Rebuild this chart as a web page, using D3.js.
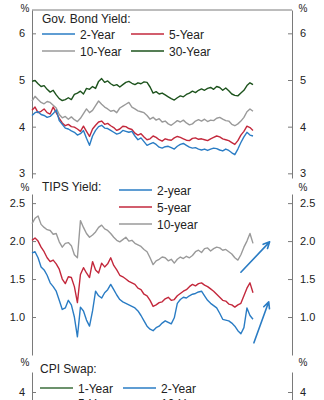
<!DOCTYPE html>
<html>
<head>
<meta charset="utf-8">
<script src="https://cdn.jsdelivr.net/npm/d3@7"></script>
<style>
  html, body { margin: 0; padding: 0; background: #fff; }
  svg { display: block; font-family: "Liberation Sans", Arial, sans-serif; }
</style>
</head>
<body>
<svg id="chart" width="324" height="400"></svg>
<script>
// Government bond yields (%), daily sampled
const bond2y = [4.24,4.30,4.32,4.26,4.24,4.20,4.22,4.28,4.36,4.13,4.05,3.97,3.95,3.91,3.88,3.82,3.85,3.92,3.75,3.60,
  3.80,3.92,4.00,4.03,3.97,3.96,3.92,3.88,3.84,3.86,3.92,3.90,3.88,3.90,3.80,3.72,3.76,3.68,3.60,3.63,
  3.66,3.62,3.56,3.54,3.57,3.58,3.55,3.52,3.58,3.62,3.64,3.60,3.56,3.54,3.55,3.52,3.50,3.52,3.49,3.52,
  3.54,3.53,3.50,3.48,3.52,3.49,3.44,3.40,3.52,3.66,3.78,3.88,3.82,3.80];
const bond5y = [4.35,4.42,4.30,4.33,4.38,4.30,4.27,4.42,4.30,4.18,4.08,4.02,4.05,4.00,3.99,3.95,3.90,4.01,3.90,3.79,
  3.95,4.03,4.10,4.12,4.05,4.07,4.02,3.98,3.92,3.95,4.01,4.00,3.96,3.94,3.86,3.82,3.85,3.78,3.72,3.74,
  3.80,3.77,3.72,3.69,3.74,3.72,3.71,3.76,3.79,3.77,3.74,3.71,3.70,3.75,3.76,3.73,3.74,3.72,3.70,3.74,
  3.77,3.80,3.78,3.74,3.72,3.70,3.66,3.62,3.70,3.82,3.90,4.01,3.98,3.92];
const bond10y = [4.55,4.65,4.58,4.52,4.49,4.54,4.52,4.46,4.40,4.26,4.19,4.22,4.16,4.21,4.15,4.11,4.18,4.28,4.38,4.30,
  4.35,4.45,4.55,4.48,4.42,4.38,4.33,4.35,4.30,4.40,4.44,4.48,4.52,4.42,4.38,4.34,4.32,4.30,4.24,4.16,
  4.20,4.14,4.17,4.10,4.12,4.06,4.03,4.08,4.13,4.10,4.14,4.08,4.04,4.06,4.12,4.15,4.12,4.16,4.11,4.14,
  4.13,4.18,4.20,4.16,4.13,4.12,4.05,4.02,4.06,4.12,4.20,4.32,4.38,4.33];
const bond30y = [4.97,4.99,4.92,4.86,4.88,4.80,4.74,4.78,4.68,4.60,4.56,4.58,4.62,4.58,4.69,4.72,4.76,4.70,4.82,4.80,
  4.86,4.82,4.97,5.03,4.95,4.98,4.92,4.88,4.90,4.85,4.90,4.95,4.97,4.93,4.90,4.94,4.92,4.96,4.95,4.85,
  4.72,4.75,4.70,4.72,4.68,4.64,4.60,4.57,4.62,4.66,4.64,4.69,4.72,4.76,4.73,4.78,4.81,4.78,4.82,4.84,
  4.80,4.86,4.84,4.78,4.83,4.77,4.70,4.67,4.66,4.72,4.78,4.88,4.94,4.90];

// TIPS real yields (%)
const tips2y = [1.84,1.86,1.78,1.66,1.62,1.55,1.45,1.40,1.34,1.22,1.10,1.12,1.22,1.16,1.00,0.74,1.13,1.08,0.96,0.88,
  1.08,1.34,1.28,1.25,1.32,1.36,1.43,1.36,1.29,1.23,1.20,1.18,1.16,1.14,1.12,1.08,1.02,0.95,0.88,0.84,
  0.82,0.86,0.88,0.92,0.95,0.93,0.91,0.99,1.18,1.23,1.26,1.25,1.28,1.30,1.31,1.33,1.34,1.28,1.22,1.18,
  1.15,1.12,1.05,0.97,0.96,0.95,0.92,0.88,0.82,0.78,0.86,1.12,1.02,0.97];
const tips5y = [2.01,2.04,2.00,1.92,1.86,1.78,1.73,1.75,1.70,1.63,1.50,1.44,1.53,1.52,1.40,1.19,1.56,1.65,1.58,1.52,
  1.73,1.62,1.58,1.71,1.66,1.70,1.78,1.68,1.62,1.55,1.53,1.50,1.47,1.45,1.43,1.38,1.36,1.30,1.28,1.22,
  1.14,1.16,1.19,1.20,1.24,1.26,1.22,1.23,1.28,1.31,1.34,1.36,1.40,1.43,1.41,1.44,1.45,1.42,1.40,1.37,
  1.34,1.30,1.26,1.22,1.21,1.17,1.16,1.13,1.16,1.18,1.28,1.38,1.45,1.32];
const tips10y = [2.23,2.30,2.33,2.22,2.18,2.15,2.14,2.09,2.10,1.99,1.92,1.97,1.98,1.94,1.82,1.78,2.27,2.18,2.10,2.05,
  2.08,2.12,2.18,2.21,2.16,2.14,2.10,2.05,2.01,1.99,2.02,2.05,2.00,2.01,1.97,1.95,1.93,1.89,1.86,1.78,
  1.69,1.74,1.76,1.79,1.78,1.74,1.76,1.71,1.76,1.79,1.77,1.80,1.78,1.81,1.86,1.88,1.85,1.90,1.91,1.87,
  1.90,1.92,1.91,1.88,1.89,1.86,1.83,1.78,1.75,1.82,1.92,2.00,2.10,1.97];

// Axis ticks
const bondTicks = [3, 4, 5, 6];
const tipsTicks = [1.0, 1.5, 2.0, 2.5];
const cpiTicks = [4];

// Trend arrows on the TIPS panel: [startIndex, startValue, endIndex, endValue]
const tipsArrows = [[69, 1.59, 78.5, 1.99], [73.3, 0.66, 78.2, 1.20]];

const C = { blue: "#2a7cc4", red: "#c3283c", gray: "#9a9a9a", green: "#1d531d", green1: "#3b6e3b", axis: "#7a7a7a", text: "#222" };

const svg = d3.select("#chart");
const N = bond2y.length;
const xL = 32, xR = 292;
const x = d3.scaleLinear().domain([0, N - 1]).range([32, 253]);

function axes(y, ticks, fmt) {
  const g = svg.append("g");
  const left = d3.axisLeft(y).tickValues(ticks).tickFormat(fmt).tickSizeInner(-4).tickSizeOuter(0).tickPadding(7);
  const right = d3.axisRight(y).tickValues(ticks).tickFormat(fmt).tickSizeInner(-4).tickSizeOuter(0).tickPadding(8);
  [g.append("g").attr("transform", `translate(${xL},0)`).call(left),
   g.append("g").attr("transform", `translate(${xR},0)`).call(right)].forEach(a => {
    a.selectAll("path.domain").attr("stroke", C.axis).attr("stroke-width", 1);
    a.selectAll(".tick line").attr("stroke", C.axis);
    a.selectAll(".tick text").attr("fill", C.text).attr("font-size", 11).attr("font-family", "Liberation Sans, Arial, sans-serif");
  });
  return g;
}

function percent(yPos) {
  svg.append("text").attr("x", 25).attr("y", yPos).attr("text-anchor", "middle").attr("font-size", 10).attr("fill", C.text).text("%");
  svg.append("text").attr("x", 303).attr("y", yPos).attr("text-anchor", "middle").attr("font-size", 10).attr("fill", C.text).text("%");
}

function series(y, values, color) {
  svg.append("path")
    .datum(values)
    .attr("fill", "none")
    .attr("stroke", color)
    .attr("stroke-width", 1.4)
    .attr("stroke-linejoin", "round")
    .attr("d", d3.line().x((d, i) => x(i)).y(d => y(d)));
}

function legendItem(x0, yPos, color, label) {
  svg.append("line").attr("x1", x0).attr("x2", x0 + 33).attr("y1", yPos).attr("y2", yPos)
    .attr("stroke", color).attr("stroke-width", 1.5);
  svg.append("text").attr("x", x0 + 38).attr("y", yPos + 4.5).attr("font-size", 12).attr("fill", C.text).text(label);
}

function title(x0, yPos, label) {
  svg.append("text").attr("x", x0).attr("y", yPos).attr("font-size", 12).attr("fill", C.text).text(label);
}

// Panel 1: government bond yields
const yBond = d3.scaleLinear().domain([2.9, 6.5]).range([178, 10]);
axes(yBond, bondTicks, d3.format("d"));
svg.append("line").attr("x1", xL).attr("x2", xR).attr("y1", 10).attr("y2", 10).attr("stroke", C.axis);
percent(12);
series(yBond, bond10y, C.gray);
series(yBond, bond30y, C.green);
series(yBond, bond5y, C.red);
series(yBond, bond2y, C.blue);
title(42, 23, "Gov. Bond Yield:");
legendItem(42, 34, C.blue, "2-Year");
legendItem(131, 34, C.red, "5-Year");
legendItem(42, 51, C.gray, "10-Year");
legendItem(131, 51, C.green, "30-Year");

// Panel 2: TIPS yields
const yTips = d3.scaleLinear().domain([0.5, 2.62]).range([355, 194]);
axes(yTips, tipsTicks, d3.format(".1f"));
percent(191);
series(yTips, tips10y, C.gray);
series(yTips, tips5y, C.red);
series(yTips, tips2y, C.blue);
title(42, 191, "TIPS Yield:");
legendItem(119, 190, C.blue, "2-year");
legendItem(119, 207, C.red, "5-year");
legendItem(119, 224, C.gray, "10-year");

// Trend arrows
tipsArrows.forEach(([i0, v0, i1, v1]) => {
  const x0 = x(i0), y0 = yTips(v0), x1 = x(i1), y1 = yTips(v1);
  const ang = Math.atan2(y1 - y0, x1 - x0), h = 7, spread = 0.45;
  const p = `M${x0},${y0}L${x1},${y1}` +
    `M${x1 - h * Math.cos(ang - spread)},${y1 - h * Math.sin(ang - spread)}L${x1},${y1}` +
    `L${x1 - h * Math.cos(ang + spread)},${y1 - h * Math.sin(ang + spread)}`;
  svg.append("path").attr("d", p).attr("fill", "none").attr("stroke", C.blue).attr("stroke-width", 1.6)
    .attr("stroke-linecap", "round").attr("stroke-linejoin", "round");
});

// Panel 3: CPI swaps
const yCpi = d3.scaleLinear().domain([-1, 4.5]).range([592, 372]);
axes(yCpi, cpiTicks, d3.format("d"));
percent(366);
title(40, 373, "CPI Swap:");
legendItem(40, 388, C.green1, "1-Year");
legendItem(123, 388, C.blue, "2-Year");
legendItem(40, 403, C.red, "5-Year");
legendItem(123, 403, C.gray, "10-Year");
</script>
</body>
</html>
